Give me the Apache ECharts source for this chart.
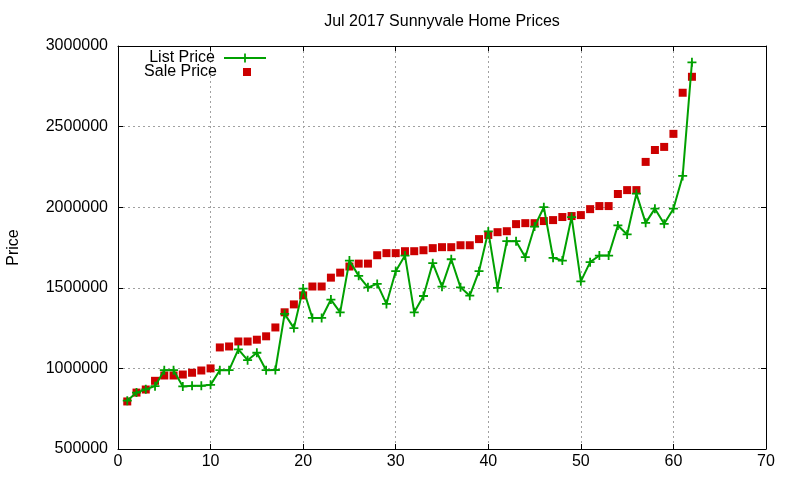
<!DOCTYPE html>
<html>
<head>
<meta charset="utf-8">
<script src="https://cdn.jsdelivr.net/npm/echarts@6/dist/echarts.min.js"></script>
<style>
html,body{margin:0;padding:0;background:#fff;}
#main{width:800px;height:480px;}
</style>
</head>
<body>
<div id="main"></div>
<script>
const titleText = 'Jul 2017 Sunnyvale Home Prices';
const seriesNames = ['List Price', 'Sale Price'];
const xTicks = [0, 10, 20, 30, 40, 50, 60, 70];
const yTicks = [500000, 1000000, 1500000, 2000000, 2500000, 3000000];

const listPrice = [800000, 850000, 870000, 890000, 989000, 989000, 888000, 892000, 892000, 898000,
  989000, 989000, 1118000, 1051000, 1097000, 989000, 990000, 1338000, 1250000, 1495000,
  1313000, 1313000, 1427000, 1348000, 1669000, 1574000, 1503000, 1524000, 1400000, 1603000,
  1700000, 1348000, 1449000, 1653000, 1507000, 1677000, 1503000, 1451000, 1603000, 1850000,
  1499000, 1789000, 1789000, 1690000, 1880000, 2000000, 1686000, 1669000, 1939000, 1540000,
  1659000, 1700000, 1700000, 1887000, 1831000, 2084000, 1903000, 1991000, 1897000, 1991000,
  2194000, 2899000];

const salePrice = [795000, 850000, 869000, 923000, 956000, 956000, 962000, 973000, 987000, 1000000,
  1130000, 1136000, 1167000, 1167000, 1178000, 1199000, 1254000, 1348000, 1397000, 1453000,
  1508000, 1508000, 1563000, 1594000, 1632000, 1650000, 1650000, 1702000, 1715000, 1715000,
  1727000, 1727000, 1733000, 1746000, 1752000, 1752000, 1764000, 1764000, 1802000, 1828000,
  1845000, 1851000, 1895000, 1901000, 1901000, 1914000, 1920000, 1939000, 1945000, 1951000,
  1988000, 2007000, 2007000, 2082000, 2106000, 2106000, 2281000, 2355000, 2374000, 2455000,
  2710000, 2809000];

const FONT = '"Liberation Sans", Arial, sans-serif';
const GREEN = '#00a000';
const RED = '#cc0000';
const PLUS = 'path://M4,0H6V4H10V6H6V10H4V6H0V4H4Z';
const SQUARE = 'path://M0,0H10V10H0Z';

const listData = listPrice.map((v, i) => [i + 1, v]);
const saleData = salePrice.map((v, i) => [i + 1, v]);

const xMin = xTicks[0], xMax = xTicks[xTicks.length - 1], xInt = xTicks[1] - xTicks[0];
const yMin = yTicks[0], yMax = yTicks[yTicks.length - 1], yInt = yTicks[1] - yTicks[0];

function axisBase() {
  return {
    axisLine: { show: true, onZero: false, lineStyle: { color: '#000', width: 1 } },
    axisTick: { show: true, inside: true, length: 5, lineStyle: { color: '#000', width: 1 } },
  };
}

const chart = echarts.init(document.getElementById('main'));
chart.setOption({
  animation: false,
  backgroundColor: '#fff',
  textStyle: { fontFamily: FONT },
  title: {
    text: titleText, left: 442, top: 14, textAlign: 'center', padding: 0,
    textStyle: { fontSize: 16, fontWeight: 'normal', color: '#000', fontFamily: FONT }
  },
  legend: [
    {
      data: [seriesNames[0]], right: 533, top: 50, align: 'right', orient: 'vertical',
      itemWidth: 42, itemHeight: 11, padding: 0,
      textStyle: { fontSize: 16, color: '#000', fontFamily: FONT, padding: [0, 4, 0, 0] }
    },
    {
      data: [{ name: seriesNames[1], icon: SQUARE, itemStyle: { color: RED, opacity: 1 } }],
      right: 549, top: 64, align: 'right', orient: 'vertical',
      itemWidth: 42, itemHeight: 8, padding: 0,
      textStyle: { fontSize: 16, color: '#000', fontFamily: FONT, padding: [0, 4, 0, 0] }
    }
  ],
  grid: { left: 118, right: 34, top: 46, bottom: 31, containLabel: false, outerBoundsMode: 'none' },
  xAxis: [
    Object.assign(axisBase(), {
      type: 'value', position: 'bottom', min: xMin, max: xMax, interval: xInt,
      axisLabel: { fontSize: 16, color: '#000', margin: 5, fontFamily: FONT },
      splitLine: { show: true, lineStyle: { color: '#a0a0a0', type: [2, 3], width: 1 } }
    }),
    Object.assign(axisBase(), {
      type: 'value', position: 'top', min: xMin, max: xMax, interval: xInt,
      axisLabel: { show: false }, splitLine: { show: false }
    })
  ],
  yAxis: [
    Object.assign(axisBase(), {
      type: 'value', position: 'left', min: yMin, max: yMax, interval: yInt,
      name: 'Price', nameLocation: 'middle', nameGap: 96,
      nameTextStyle: { fontSize: 16, color: '#000', fontFamily: FONT },
      axisLabel: { fontSize: 16, color: '#000', margin: 10, fontFamily: FONT,
        formatter: v => String(v) },
      splitLine: { show: true, lineStyle: { color: '#a0a0a0', type: [2, 3], width: 1 } }
    }),
    Object.assign(axisBase(), {
      type: 'value', position: 'right', min: yMin, max: yMax, interval: yInt,
      axisLabel: { show: false }, splitLine: { show: false }
    })
  ],
  series: [
    {
      name: seriesNames[0], type: 'line', data: listData,
      symbol: PLUS, symbolSize: 9, showSymbol: true,
      lineStyle: { color: GREEN, width: 2 },
      itemStyle: { color: GREEN, opacity: 1 }
    },
    {
      name: seriesNames[1], type: 'scatter', data: saleData,
      symbol: 'rect', symbolSize: 8,
      itemStyle: { color: RED, opacity: 1 }
    }
  ]
});
</script>
</body>
</html>
